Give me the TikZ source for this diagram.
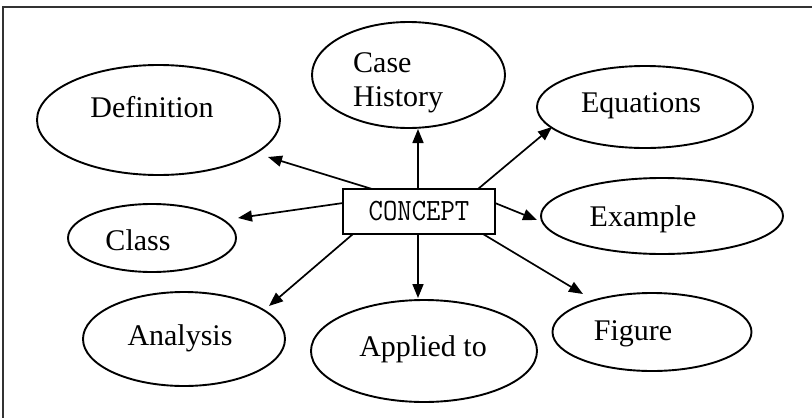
\documentclass[tikz,border=0pt]{standalone}
\usepackage{fontspec}
\usepackage{graphicx}
\setmainfont{Liberation Serif}
\usetikzlibrary{shapes.geometric,arrows.meta}
\begin{document}
\begin{tikzpicture}[x=1pt,y=-1pt,
  oval/.style={draw, ellipse, line width=1.9pt, inner sep=0pt, outer sep=0pt},
  lbl/.style={font=\fontsize{30}{34}\selectfont, inner sep=0pt, anchor=base},
  box/.style={draw, rectangle, line width=1.9pt, inner sep=0pt, outer sep=0pt,
              minimum width=152pt, minimum height=45pt},
  arr/.style={-{Triangle[length=14pt,width=11pt]}, line width=1.7pt}]
\useasboundingbox (0,0) rectangle (812,418);
\fill[white] (0,0) rectangle (812,418);
\draw[line width=2pt, black!80] (3,418) -- (3,7) -- (812,7);

% ellipses
\node[oval, minimum width=193pt, minimum height=106pt] (case) at (408.5,75) {};
\node[oval, minimum width=243pt, minimum height=110pt] (def) at (158.5,120) {};
\node[oval, minimum width=216pt, minimum height=82pt] (eq) at (645,107) {};
\node[oval, minimum width=168pt, minimum height=68pt] (class) at (152,238) {};
\node[oval, minimum width=242pt, minimum height=76pt] (ex) at (662,216) {};
\node[oval, minimum width=202pt, minimum height=94pt] (ana) at (184,339) {};
\node[oval, minimum width=226pt, minimum height=102pt] (app) at (424,351) {};
\node[oval, minimum width=199pt, minimum height=78pt] (fig) at (652,332) {};

% labels
\node[lbl, anchor=north west, align=left] (caseT) at (353,52) {Case\\History};
\node[lbl] (defT) at (152,117) {Definition};
\node[lbl] (eqT) at (641,112) {Equations};
\node[lbl] (classT) at (138,250) {Class};
\node[lbl] (exT) at (643,226) {Example};
\node[lbl] (anaT) at (180,345) {Analysis};
\node[lbl] (appT) at (423,356) {Applied to};
\node[lbl] (figT) at (633,340) {Figure};

% centre box
\node[box] (concept) at (419,211.5)
  {\scalebox{0.9}[1]{\fontsize{31}{31}\selectfont\ttfamily\addfontfeature{FakeBold=1.5}CONCEPT}};

% arrow tips
\coordinate (tCase) at (418,129);
\coordinate (tDef) at (268,157);
\coordinate (tEq) at (552,127);
\coordinate (tClass) at (238,218);
\coordinate (tEx) at (537,220);
\coordinate (tAna) at (269,306);
\coordinate (tApp) at (418,298);
\coordinate (tFig) at (583,294);

% arrows
\draw[arr] ([xshift=-1pt]concept.north) -- (tCase);
\draw[arr] ([xshift=-47pt]concept.north) -- (tDef);
\draw[arr] ([xshift=59pt]concept.north) -- (tEq);
\draw[arr] ([yshift=8.5pt]concept.west) -- (tClass);
\draw[arr] ([yshift=8.5pt]concept.east) -- (tEx);
\draw[arr] ([xshift=-66pt]concept.south) -- (tAna);
\draw[arr] ([xshift=-1pt]concept.south) -- (tApp);
\draw[arr] ([xshift=64pt]concept.south) -- (tFig);
\end{tikzpicture}
\end{document}
